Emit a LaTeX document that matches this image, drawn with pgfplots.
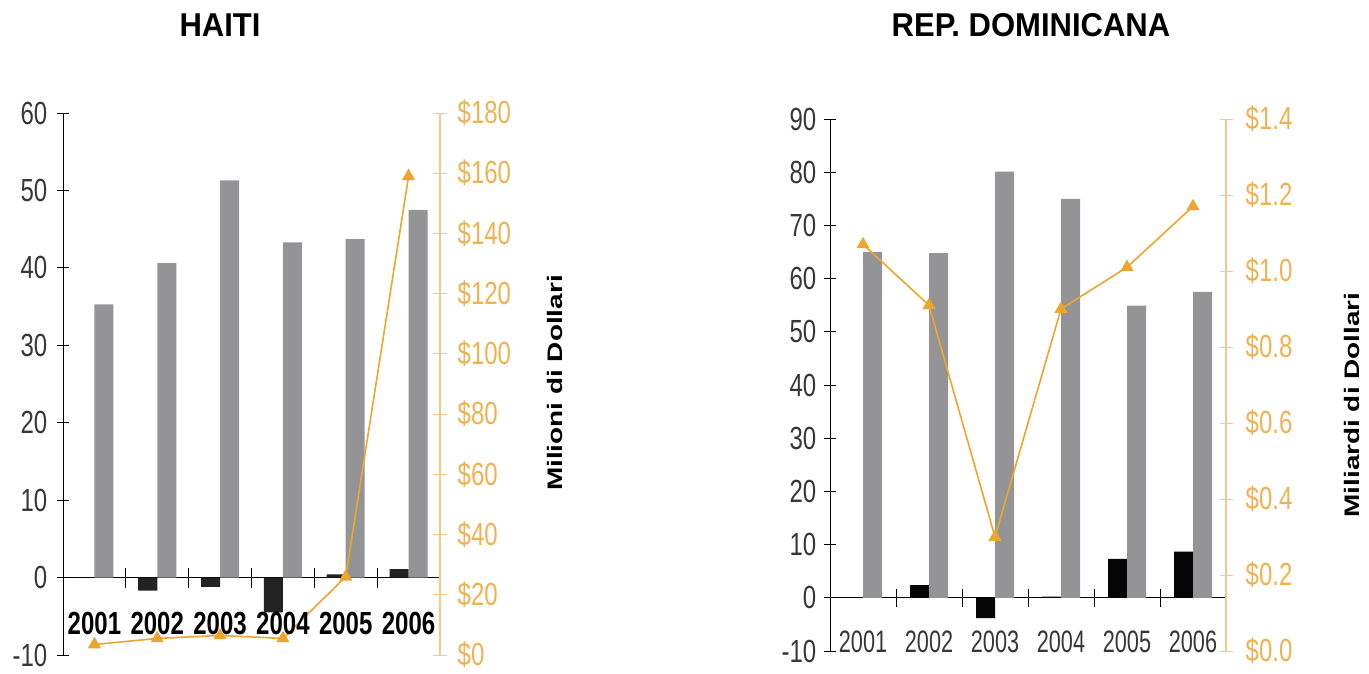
\documentclass[border=0pt]{standalone}
\usepackage{pgfplots}
\pgfplotsset{compat=1.18}
\usepackage{fontspec}
\setmainfont{Liberation Sans}[FakeStretch=0.75]
\newfontfamily\xfont{Liberation Sans}[FakeStretch=0.7]
\newfontfamily\rotfont{Liberation Sans}[FakeStretch=1.33]
\newfontfamily\titlefont{Liberation Sans}[FakeStretch=0.94]

\definecolor{bargray}{RGB}{148,148,150}
\definecolor{barblackL}{RGB}{35,35,35}
\definecolor{barblackR}{RGB}{5,5,5}
\definecolor{lineor}{RGB}{236,165,45}
\definecolor{axor}{RGB}{245,200,135}
\definecolor{labor}{RGB}{240,178,80}
\definecolor{ticklab}{RGB}{55,55,55}

\pgfplotsset{
  prim/.style={
    scale only axis, anchor=south west,
    xmin=0.5, xmax=6.5,
    axis x line*=middle, axis y line*=left,
    tick align=center,
    xtick={1.5,2.5,3.5,4.5,5.5}, xticklabels={},
    xtick style={black, line width=0.8pt, /pgfplots/major tick length=20pt},
    ytick style={black, line width=0.8pt, /pgfplots/major tick length=12pt},
    axis line style={black, line width=1pt},
    yticklabel style={font=\fontsize{32}{36}\selectfont, text=ticklab, xshift=-10pt},
    clip=false,
  },
  sec/.style={
    scale only axis, anchor=south west,
    xmin=0.5, xmax=6.5,
    axis x line=none, axis y line*=right,
    tick align=center,
    ytick style={axor, line width=0.8pt, /pgfplots/major tick length=13pt},
    axis line style={axor, line width=1.2pt},
    yticklabel style={font=\fontsize{32}{36}\selectfont, text=labor, xshift=12pt},
    clip=false,
  },
  orline/.style={lineor, line width=1.6pt, mark=triangle*, mark size=6pt,
    mark options={fill=lineor, draw=lineor, solid}},
}

\begin{document}
\begin{tikzpicture}
\useasboundingbox (0,0) rectangle (1369pt,-673pt);

% ---------------- HAITI ----------------
\node[font=\titlefont\bfseries\fontsize{33}{38}\selectfont] at (220pt,-25pt) {HAITI};

\begin{axis}[prim, at={(63pt,-655pt)}, width=377pt, height=542pt,
  ymin=-10, ymax=60, ytick={-10,0,10,20,30,40,50,60},
  yticklabels={-10,0,10,20,30,40,50,60}]
\addplot[ybar, bar width=19pt, bar shift=-9.5pt, fill=barblackL, draw=none]
  coordinates {(1,0) (2,-1.7) (3,-1.2) (4,-4.5) (5,0.4) (6,1.1)};
\addplot[ybar, bar width=19pt, bar shift=9.5pt, fill=bargray, draw=none]
  coordinates {(1,35.3) (2,40.6) (3,51.3) (4,43.3) (5,43.7) (6,47.5)};
\end{axis}

\begin{axis}[sec, at={(63pt,-655pt)}, width=377pt, height=542pt,
  ymin=0, ymax=180, ytick={0,20,40,60,80,100,120,140,160,180},
  yticklabels={\$0,\$20,\$40,\$60,\$80,\$100,\$120,\$140,\$160,\$180}]
\addplot[orline] coordinates {(1,3.5) (2,5.5) (3,6.5) (4,5.5) (5,26) (6,159)};
\foreach \i/\yr in {1/2001,2/2002,3/2003,4/2004,5/2005,6/2006}{
  \edef\tmp{\noexpand\node[font=\noexpand\bfseries\noexpand\fontsize{32}{36}\noexpand\selectfont, text=black] at (axis cs:\i,10.6) {\yr};}
  \tmp
}
\end{axis}

\node[rotate=90, font=\rotfont\bfseries\fontsize{21}{25}\selectfont] at (555pt,-383pt) {Milioni di Dollari};

% ---------------- REP. DOMINICANA ----------------
\node[font=\titlefont\bfseries\fontsize{33}{38}\selectfont] at (1031pt,-25pt) {REP. DOMINICANA};

\begin{axis}[prim, at={(830pt,-651pt)}, width=396pt, height=532pt,
  ymin=-10, ymax=90, ytick={-10,0,10,20,30,40,50,60,70,80,90},
  yticklabels={-10,0,10,20,30,40,50,60,70,80,90},
  yticklabel style={xshift=2pt},
  xtick style={black, line width=0.8pt, /pgfplots/major tick length=18pt}]
\addplot[ybar, bar width=19pt, bar shift=-9.5pt, fill=barblackR, draw=none]
  coordinates {(1,0) (2,2.4) (3,-3.8) (4,0.2) (5,7.3) (6,8.7)};
\addplot[ybar, bar width=19pt, bar shift=9.5pt, fill=bargray, draw=none]
  coordinates {(1,65.0) (2,64.8) (3,80.1) (4,75.0) (5,54.9) (6,57.5)};
\end{axis}

\begin{axis}[sec, at={(830pt,-651pt)}, width=396pt, height=532pt,
  ymin=0, ymax=1.4, ytick={0,0.2,0.4,0.6,0.8,1.0,1.2,1.4},
  yticklabels={\$0.0,\$0.2,\$0.4,\$0.6,\$0.8,\$1.0,\$1.2,\$1.4},
  yticklabel style={xshift=2pt}]
\addplot[orline] coordinates {(1,1.07) (2,0.91) (3,0.30) (4,0.90) (5,1.01) (6,1.17)};
\foreach \i/\yr in {1/2001,2/2002,3/2003,4/2004,5/2005,6/2006}{
  \edef\tmp{\noexpand\node[font=\noexpand\xfont\noexpand\fontsize{31}{36}\noexpand\selectfont, text=ticklab] at (axis cs:\i,0.024) {\yr};}
  \tmp
}
\end{axis}

\node[rotate=90, font=\rotfont\bfseries\fontsize{21}{25}\selectfont] at (1352pt,-405pt) {Miliardi di Dollari};

\end{tikzpicture}
\end{document}
